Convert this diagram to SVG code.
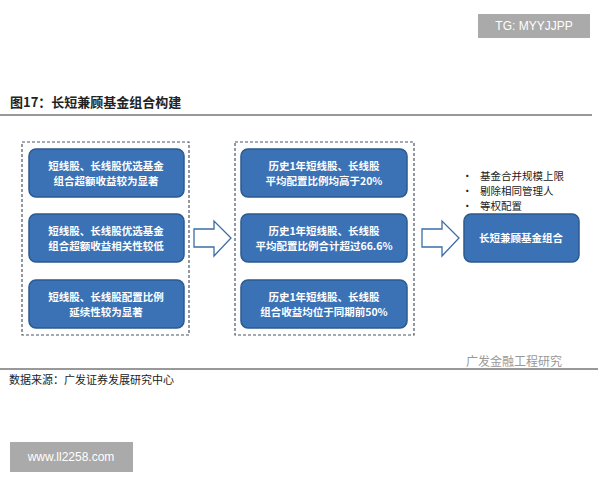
<svg xmlns="http://www.w3.org/2000/svg" width="600" height="480" viewBox="0 0 600 480">
<style>
.b{fill:#3b72b6;stroke:#2c5a8f;stroke-width:1.5}
.t{font-family:"Noto Sans CJK SC",sans-serif;font-size:10.5px;fill:#fff;text-anchor:middle;font-weight:bold}
.d{fill:none;stroke:#4a5566;stroke-width:1.2;stroke-dasharray:3,2}
.ar{fill:#fff;stroke:#3b6ea8;stroke-width:1.3}
.k{font-family:"Noto Sans CJK SC",sans-serif;fill:#222}
</style>
<rect width="600" height="480" fill="#fff"/>
<rect x="478" y="14" width="112" height="24" fill="#aaa"/>
<text x="534" y="30" font-family="Liberation Sans,sans-serif" font-size="12" fill="#fff" text-anchor="middle">TG: MYYJJPP</text>
<text x="10" y="107" class="k" font-size="13" font-weight="bold">图17：长短兼顾基金组合构建</text>
<line x1="0" y1="115" x2="592" y2="115" stroke="#333" stroke-width="1.2"/>
<g id="group1"><rect class="d" x="22" y="142" width="167" height="193"/></g>
<g id="group2"><rect class="d" x="235" y="142" width="179" height="193"/></g>
<g id="n1"><rect class="b" x="29" y="149" width="155" height="48" rx="7"/><text class="t" x="106" y="170">短线股、长线股优选基金</text><text class="t" x="106" y="185">组合超额收益较为显著</text></g>
<g id="n2"><rect class="b" x="29" y="214" width="155" height="48" rx="7"/><text class="t" x="106" y="235">短线股、长线股优选基金</text><text class="t" x="106" y="250">组合超额收益相关性较低</text></g>
<g id="n3"><rect class="b" x="29" y="280" width="155" height="48" rx="7"/><text class="t" x="106" y="301">短线股、长线股配置比例</text><text class="t" x="106" y="316">延续性较为显著</text></g>
<g id="n4"><rect class="b" x="241" y="149" width="166" height="48" rx="7"/><text class="t" x="324" y="170">历史1年短线股、长线股</text><text class="t" x="324" y="185">平均配置比例均高于20%</text></g>
<g id="n5"><rect class="b" x="241" y="214" width="166" height="48" rx="7"/><text class="t" x="324" y="235">历史1年短线股、长线股</text><text class="t" x="324" y="250">平均配置比例合计超过66.6%</text></g>
<g id="n6"><rect class="b" x="241" y="280" width="166" height="48" rx="7"/><text class="t" x="324" y="301">历史1年短线股、长线股</text><text class="t" x="324" y="316">组合收益均位于同期前50%</text></g>
<g id="n7"><rect class="b" x="464" y="214" width="115" height="48" rx="7"/><text class="t" x="521" y="242">长短兼顾基金组合</text></g>
<g id="connectors">
<polygon class="ar" points="194,229 214,229 214,221 231,238 214,256 214,247 194,247"/>
<polygon class="ar" points="422,229 442,229 442,221 459,238 442,256 442,247 422,247"/>
</g>
<g id="bullets" class="k" font-size="10.5">
<text x="462" y="180">•</text><text x="480" y="180">基金合并规模上限</text>
<text x="462" y="195">•</text><text x="480" y="195">剔除相同管理人</text>
<text x="462" y="210">•</text><text x="480" y="210">等权配置</text>
</g>
<line x1="0" y1="369" x2="598" y2="369" stroke="#333" stroke-width="1"/>
<text x="466" y="366" class="k" font-size="12" style="fill:#999">广发金融工程研究</text>
<text x="9" y="384" class="k" font-size="11">数据来源：广发证券发展研究中心</text>
<rect x="10" y="442" width="123" height="30" fill="#aaa"/>
<text x="71" y="461" font-family="Liberation Sans,sans-serif" font-size="12" fill="#fff" text-anchor="middle">www.ll2258.com</text>
</svg>
